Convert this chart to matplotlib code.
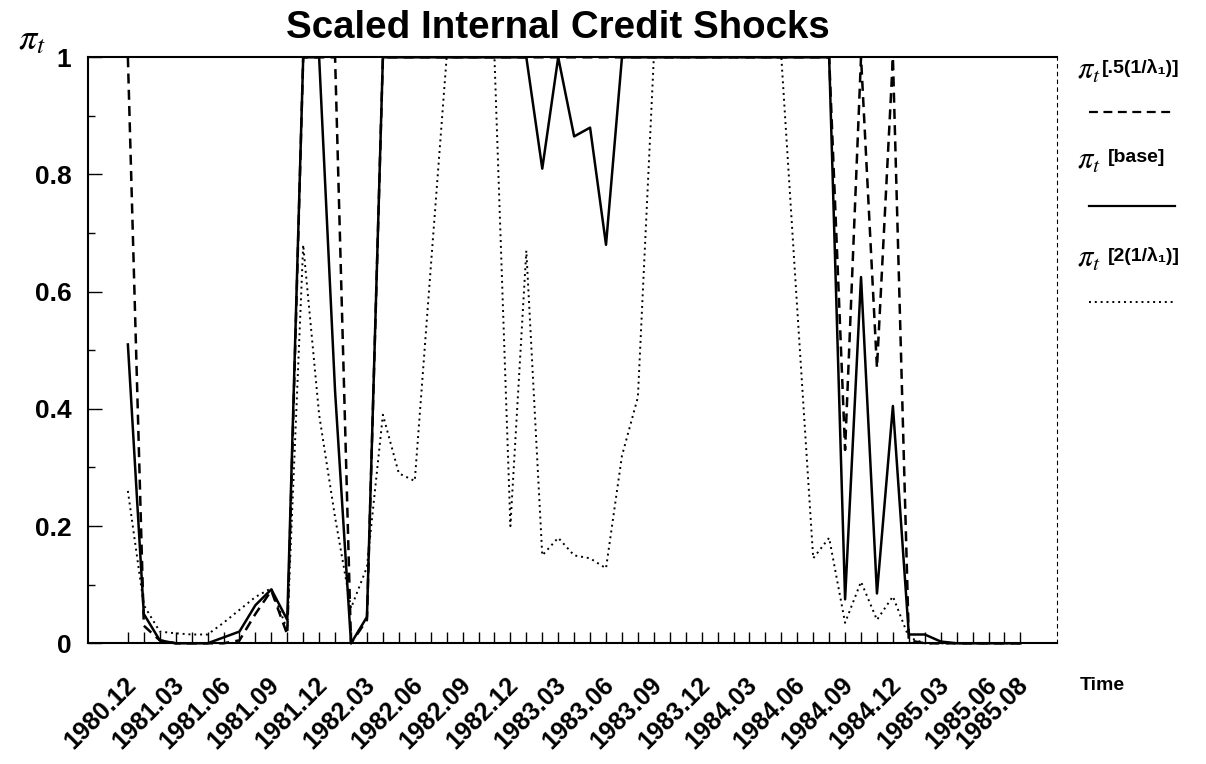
import matplotlib
matplotlib.use("Agg")
import matplotlib.pyplot as plt
from matplotlib.lines import Line2D
from matplotlib.transforms import ScaledTranslation
import pandas as pd

plt.rcParams['font.family'] = ['Liberation Sans', 'DejaVu Sans']
plt.rcParams['mathtext.fontset'] = 'stix'

# monthly observations, 1980.12 .. 1985.08
months = [p.strftime('%Y.%m') for p in pd.period_range('1980-12', '1985-08', freq='M')]

tick_labels = ['1980.12', '1981.03', '1981.06', '1981.09', '1981.12', '1982.03',
               '1982.06', '1982.09', '1982.12', '1983.03', '1983.06', '1983.09',
               '1983.12', '1984.03', '1984.06', '1984.09', '1984.12', '1985.03',
               '1985.06', '1985.08']

# pi_t with .5(1/lambda_1)
pi_half = [1.0, 0.03, 0.005, 0.0, 0.0, 0.0, 0.0, 0.005, 0.05, 0.09,
           0.015, 1.0, 1.0, 1.0, 0.0, 0.04, 1.0, 1.0, 1.0, 1.0,
           1.0, 1.0, 1.0, 1.0, 1.0, 1.0, 1.0, 1.0, 1.0, 1.0,
           1.0, 1.0, 1.0, 1.0, 1.0, 1.0, 1.0, 1.0, 1.0, 1.0,
           1.0, 1.0, 1.0, 1.0, 1.0, 0.33, 1.0, 0.47, 1.0, 0.005,
           0.0, 0.0, 0.0, 0.0, 0.0, 0.0, 0.0]

# pi_t base case
pi_base = [0.51, 0.05, 0.005, 0.0, 0.0, 0.0, 0.01, 0.02, 0.065, 0.092,
           0.04, 1.0, 1.0, 0.43, 0.0, 0.045, 1.0, 1.0, 1.0, 1.0,
           1.0, 1.0, 1.0, 1.0, 1.0, 1.0, 0.81, 1.0, 0.865, 0.88,
           0.68, 1.0, 1.0, 1.0, 1.0, 1.0, 1.0, 1.0, 1.0, 1.0,
           1.0, 1.0, 1.0, 1.0, 1.0, 0.075, 0.625, 0.085, 0.405, 0.015,
           0.015, 0.003, 0.0, 0.0, 0.0, 0.0, 0.0]

# pi_t with 2(1/lambda_1)
pi_double = [0.26, 0.065, 0.02, 0.017, 0.015, 0.015, 0.035, 0.057, 0.079, 0.094,
             0.023, 0.68, 0.39, 0.215, 0.06, 0.13, 0.39, 0.29, 0.277, 0.64,
             1.0, 1.0, 1.0, 1.0, 0.2, 0.67, 0.15, 0.18, 0.15, 0.145,
             0.128, 0.32, 0.42, 1.0, 1.0, 1.0, 1.0, 1.0, 1.0, 1.0,
             1.0, 1.0, 0.57, 0.145, 0.18, 0.035, 0.105, 0.04, 0.08, 0.01,
             0.0, 0.0, 0.0, 0.0, 0.0, 0.0, 0.0]

x = list(range(len(months)))

fig = plt.figure(figsize=(12.06, 7.64), dpi=100)
ax = fig.add_axes([0.073, 0.158, 0.8035, 0.767])

ax.plot(x, pi_half, color='black', lw=1.8, ls=(0, (4, 2.5)), clip_on=False)
ax.plot(x, pi_base, color='black', lw=1.8, clip_on=False)
ax.plot(x, pi_double, color='black', lw=1.4, ls=(0, (1, 2)), clip_on=False)

ax.set_xlim(-2.5, 58.3)
ax.set_ylim(0, 1)

for side in ['left', 'bottom', 'top']:
    ax.spines[side].set_linewidth(1.5)
ax.spines['right'].set_linewidth(0.8)
ax.spines['right'].set_linestyle((0, (3, 4)))

ax.set_xticks(x)
ax.set_xticklabels([m if m in tick_labels else '' for m in months],
                   rotation=45, ha='right', rotation_mode='anchor',
                   fontsize=18, fontweight='bold')
ax.tick_params(axis='x', direction='in', length=8, width=1, pad=21)
offset = ScaledTranslation(-3 / 72, 0, fig.dpi_scale_trans)
for lbl in ax.get_xticklabels():
    lbl.set_transform(lbl.get_transform() + offset)

ax.set_yticks([0, 0.2, 0.4, 0.6, 0.8, 1.0])
ax.set_yticklabels(['0', '0.2', '0.4', '0.6', '0.8', '1'], fontsize=19, fontweight='bold')
ax.set_yticks([0.1, 0.3, 0.5, 0.7, 0.9], minor=True)
ax.tick_params(axis='y', which='major', direction='in', length=10, width=1, pad=12)
ax.tick_params(axis='y', which='minor', direction='in', length=5, width=1)

fig.text(558 / 1206, 1 - 28 / 764, 'Scaled Internal Credit Shocks', ha='center', va='center',
         fontsize=27.7, fontweight='bold')
fig.text(18 / 1206, 1 - 40 / 764, r'$\pi_t$', ha='left', va='center', fontsize=26)
fig.text(1080 / 1206, 1 - 686 / 764, 'Time', ha='left', va='center',
         fontsize=14, fontweight='bold')

# hand-drawn style legend on the right: (bracket text, text x, text y, line y, style, width)
legend_items = [
    ('[.5(1/λ₁)]', 1102, 68, 112, (0, (4, 2.5)), 1.6),
    ('[base]', 1108, 158, 206, '-', 1.6),
    ('[2(1/λ₁)]', 1108, 256, 302, (0, (1, 2)), 1.4),
]
for label, tx, ty, ly, style, lw in legend_items:
    fig.text(1077 / 1206, 1 - (ty + 3) / 764, r'$\pi_t$', ha='left', va='center', fontsize=22)
    fig.text(tx / 1206, 1 - ty / 764, label, ha='left', va='center',
             fontsize=14, fontweight='bold')
    fig.add_artist(Line2D([1089 / 1206, 1175 / 1206], [1 - ly / 764, 1 - ly / 764],
                          color='black', lw=lw, ls=style, transform=fig.transFigure))

fig.savefig('out.png', dpi=100)
